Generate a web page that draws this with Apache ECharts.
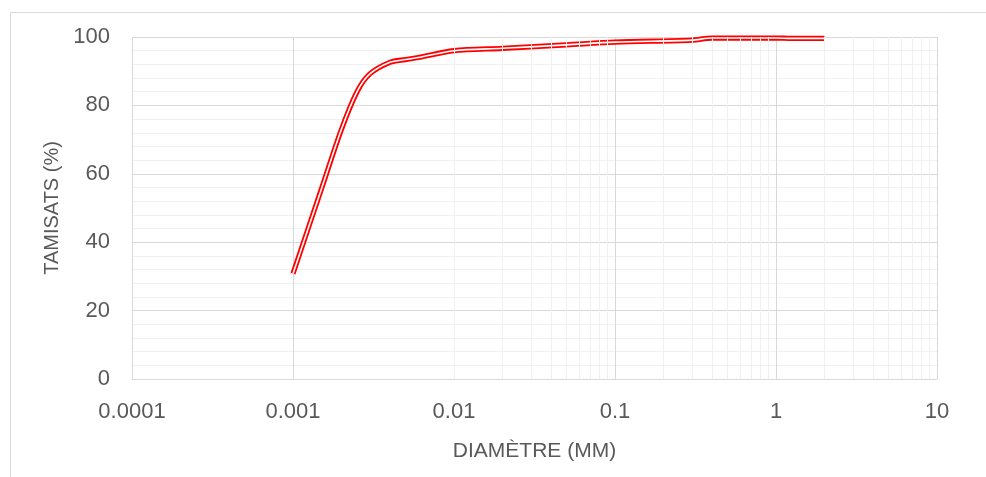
<!DOCTYPE html>
<html>
<head>
<meta charset="utf-8">
<script src="https://cdn.jsdelivr.net/npm/echarts@6/dist/echarts.min.js"></script>
<style>html,body{margin:0;padding:0;background:#fff}#c{width:986px;height:477px}</style>
</head>
<body>
<div id="c"></div>
<script>
const diametre = [0.001, 0.0015, 0.002, 0.0025, 0.003, 0.004, 0.005, 0.006, 0.01, 0.02, 0.05, 0.1, 0.3, 0.4, 1, 1.25, 2];
const tamisat  = [30.8, 55.5, 73, 84, 89.2, 92.6, 93.4, 94.0, 96.0, 96.7, 97.7, 98.5, 99.1, 99.7, 99.7, 99.6, 99.6];
const xMin = 0.0001, xMax = 10;
const yTicks = [0, 20, 40, 60, 80, 100];
const minorFactors = [2, 3, 4, 5, 6, 7, 8, 9];
const decades = [0.0001, 0.001, 0.01, 0.1, 1];

const points = diametre.map((d, i) => [d, tamisat[i]]);
const minorX = [];
decades.forEach(d => minorFactors.forEach(k => minorX.push({ xAxis: +(d * k).toPrecision(3) })));

const FONT = '"Liberation Sans", Arial, sans-serif';
const chart = echarts.init(document.getElementById('c'), null, { renderer: 'canvas' });
chart.setOption({
  animation: false,
  backgroundColor: '#fff',
  graphic: [{
    type: 'rect', silent: true, z: -10,
    shape: { x: 10.5, y: 12.5, width: 1000, height: 500 },
    style: { fill: 'none', stroke: '#d9d9d9', lineWidth: 1 }
  }],
  grid: { left: 132, right: 49, top: 37, bottom: 98, containLabel: false },
  xAxis: {
    type: 'log', logBase: 10, min: xMin, max: xMax,
    name: 'DIAMÈTRE (MM)', nameLocation: 'middle', nameGap: 62,
    nameTextStyle: { color: '#595959', fontSize: 21, fontFamily: FONT },
    axisLine: { show: true, lineStyle: { color: '#d9d9d9', width: 1 } },
    axisTick: { show: false },
    axisLabel: {
      color: '#595959', fontSize: 22, fontFamily: FONT, margin: 22,
      formatter: v => String(+(+v).toPrecision(6))
    },
    splitLine: { show: true, lineStyle: { color: '#d9d9d9', width: 1 } },
    minorTick: { show: false },
    minorSplitLine: { show: false }
  },
  yAxis: {
    type: 'value', min: yTicks[0], max: yTicks[yTicks.length - 1], interval: 20,
    name: 'TAMISATS (%)', nameLocation: 'middle', nameGap: 70,
    nameTextStyle: { color: '#595959', fontSize: 20, fontFamily: FONT },
    axisLine: { show: false },
    axisTick: { show: false },
    axisLabel: { color: '#595959', fontSize: 22, fontFamily: FONT, margin: 22 },
    splitLine: { show: true, lineStyle: { color: '#d9d9d9', width: 1 } },
    minorTick: { show: false, splitNumber: 5 },
    minorSplitLine: { show: true, lineStyle: { color: '#f0f0f0', width: 1 } }
  },
  series: [
    {
      type: 'line', data: [], z: 1, silent: true,
      markLine: {
        silent: true, symbol: ['none', 'none'], label: { show: false },
        lineStyle: { color: '#f0f0f0', width: 1, type: 'solid' },
        emphasis: { disabled: true },
        data: minorX
      }
    },
    {
      type: 'line', data: points, z: 3, smooth: 0.3,
      showSymbol: false, symbol: 'none', silent: true,
      lineStyle: { color: '#ff0000', width: 5.2 }
    },
    {
      type: 'line', data: points, z: 4, smooth: 0.3,
      showSymbol: false, symbol: 'none', silent: true,
      lineStyle: { color: '#ffffff', width: 1.6 }
    }
  ]
});
</script>
</body>
</html>
